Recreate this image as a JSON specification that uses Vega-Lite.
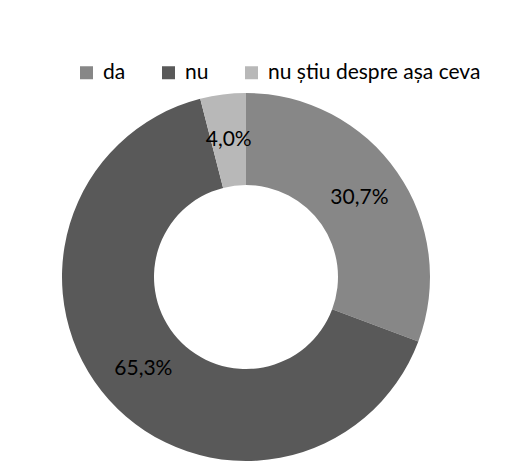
{
  "$schema": "https://vega.github.io/schema/vega-lite/v6.json",
  "width": 492,
  "height": 388,
  "autosize": {"type": "none"},
  "padding": {"left": 0, "top": 83, "right": 34, "bottom": 0},
  "background": "white",
  "config": {"view": {"stroke": null}, "font": "Lato"},
  "data": {"values": [
    {"raspuns": "da", "procent": 30.7, "eticheta": "30,7%", "ordine": 1},
    {"raspuns": "nu", "procent": 65.3, "eticheta": "65,3%", "ordine": 2},
    {"raspuns": "nu știu despre așa ceva", "procent": 4.0, "eticheta": "4,0%", "ordine": 3}
  ]},
  "encoding": {
    "theta": {"field": "procent", "type": "quantitative", "stack": true},
    "order": {"field": "ordine", "type": "quantitative"}
  },
  "layer": [
    {
      "mark": {"type": "arc", "outerRadius": 184, "innerRadius": 92},
      "encoding": {
        "color": {
          "field": "raspuns",
          "type": "nominal",
          "sort": ["da", "nu", "nu știu despre așa ceva"],
          "scale": {"domain": ["da", "nu", "nu știu despre așa ceva"], "range": ["#878787", "#595959", "#b8b8b8"]},
          "legend": {
            "title": null,
            "orient": "none",
            "direction": "horizontal",
            "legendX": 76,
            "legendY": -21,
            "padding": 0,
            "symbolType": "square",
            "symbolSize": 169,
            "symbolStrokeWidth": 0,
            "labelFont": "Lato",
            "labelFontSize": 21,
            "labelColor": "#000000",
            "labelOffset": 6,
            "columnPadding": 32,
            "labelLimit": 400
          }
        }
      }
    },
    {
      "mark": {"type": "text", "radius": 138, "font": "Lato", "fontSize": 21, "color": "#000000", "align": "center", "baseline": "middle"},
      "encoding": {"text": {"field": "eticheta", "type": "nominal"}}
    }
  ]
}
